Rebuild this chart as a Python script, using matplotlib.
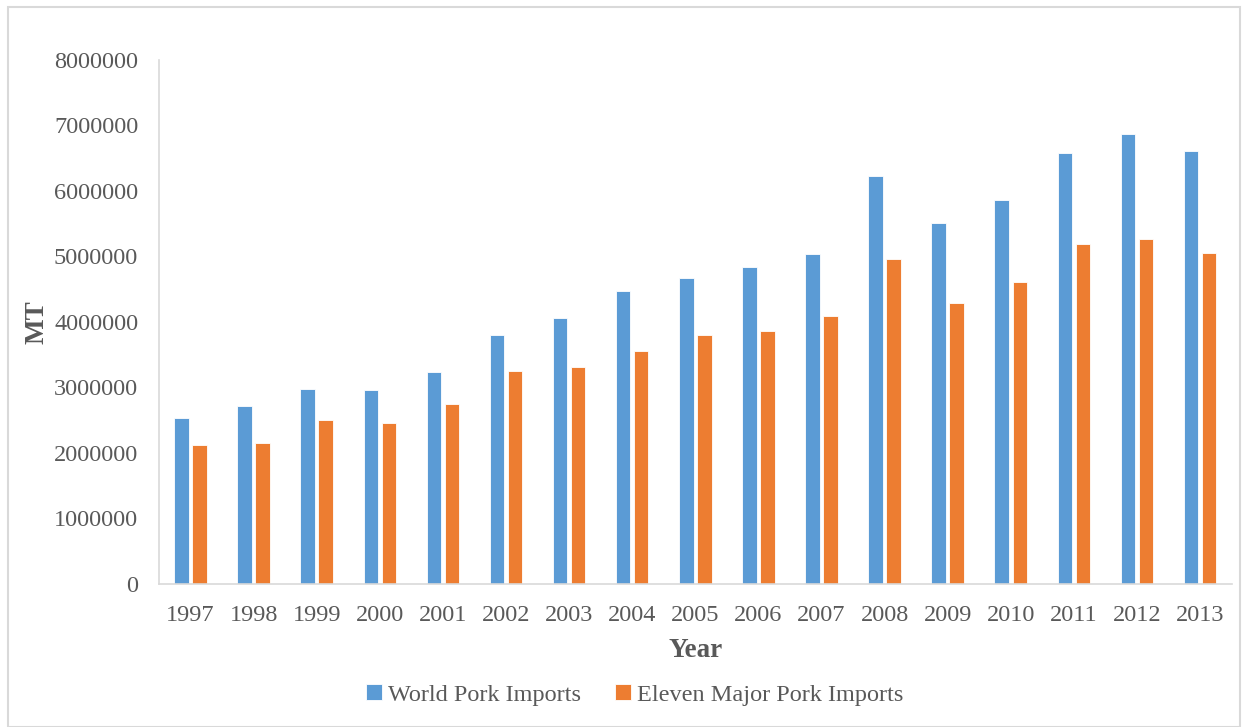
import numpy as np
import matplotlib.pyplot as plt
from matplotlib.patches import Rectangle

# Pork import volumes, metric tonnes
years = ['1997', '1998', '1999', '2000', '2001', '2002', '2003', '2004', '2005',
         '2006', '2007', '2008', '2009', '2010', '2011', '2012', '2013']
world = [2534000, 2722000, 2982000, 2962000, 3230000, 3797000, 4061000, 4473000, 4667000,
         4845000, 5043000, 6224000, 5507000, 5858000, 6575000, 6870000, 6611000]
eleven = [2127000, 2148000, 2504000, 2458000, 2748000, 3247000, 3308000, 3557000, 3797000,
          3863000, 4096000, 4962000, 4290000, 4606000, 5196000, 5272000, 5049000]

plt.rcParams['font.family'] = ['Liberation Serif', 'DejaVu Serif']
grey = '#595959'

fig = plt.figure(figsize=(12.44, 7.27), dpi=100)
ax = fig.add_axes([0.1278, 0.1967, 0.8622, 0.7208])

# thin grey frame around the whole figure
fig.patches.append(Rectangle((0.0065, 0.0), 0.99, 0.99, transform=fig.transFigure,
                             fill=False, edgecolor='#d9d9d9', linewidth=1.5))

x = np.arange(len(years))
w = 0.23
ax.bar(x - 0.143, world, w, color='#5B9BD5', edgecolor='white', linewidth=0.6,
       label='World Pork Imports')
ax.bar(x + 0.143, eleven, w, color='#ED7D31', edgecolor='white', linewidth=0.6,
       label='Eleven Major Pork Imports')

ax.set_xlim(-0.5, len(years) - 0.5)
ax.set_ylim(0, 8000000)
ax.set_yticks(np.arange(0, 8000001, 1000000))
ax.set_yticklabels([str(v) for v in range(0, 8000001, 1000000)])
ax.set_xticks(x)
ax.set_xticklabels(years)

for s in ['top', 'right']:
    ax.spines[s].set_visible(False)
for s in ['left', 'bottom']:
    ax.spines[s].set_color('#d9d9d9')
    ax.spines[s].set_linewidth(1.2)
ax.tick_params(length=0, labelsize=17.5, colors=grey)
ax.tick_params(axis='y', pad=15)
ax.tick_params(axis='x', pad=15)

ax.set_xlabel('Year', fontsize=19.5, fontweight='bold', color=grey, labelpad=9)
ax.set_ylabel('MT', fontsize=19.5, fontweight='bold', color=grey, labelpad=3)

fig.legend(loc='center', bbox_to_anchor=(0.51, 0.044), ncol=2, frameon=False,
           fontsize=17.5, labelcolor=grey, handlelength=0.65, handleheight=0.65,
           handletextpad=0.25, columnspacing=1.4)

fig.savefig('out.png', dpi=100)
